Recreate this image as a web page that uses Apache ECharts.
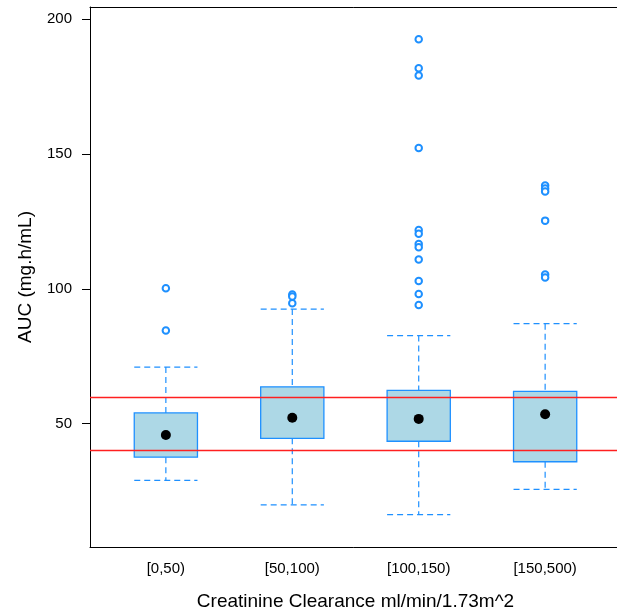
<!DOCTYPE html>
<html>
<head>
<meta charset="utf-8">
<script src="https://cdn.jsdelivr.net/npm/echarts@6/dist/echarts.min.js"></script>
<style>
  html, body { margin: 0; padding: 0; background: #fff; }
  #chart { width: 617px; height: 610px; }
</style>
</head>
<body>
<div id="chart"></div>
<script>
// Creatinine clearance groups and AUC box summaries
var categories = ['[0,50)', '[50,100)', '[100,150)', '[150,500)'];
var whiskerLow  = [29.0, 19.9, 16.3, 25.7];
var quartile1   = [37.6, 44.6, 43.5, 35.9];
var median      = [45.8, 52.2, 51.8, 53.5];
var quartile3   = [54.0, 63.7, 62.4, 62.0];
var whiskerHigh = [71.0, 92.5, 82.7, 87.1];
var outliers = [
  [100.2, 84.6],
  [97.9, 97.2, 94.7],
  [192.5, 181.8, 179.1, 152.2, 121.8, 120.4, 116.6, 115.4, 110.9, 102.9, 98.1, 94.0],
  [138.3, 137.2, 136.1, 125.3, 105.3, 104.2]
];
var targetRange = [40, 60];
var yTicks = [50, 100, 150, 200];

var FONT = "'Liberation Sans', Arial, Helvetica, sans-serif";
var BLUE = '#1E90FF';

var boxData = categories.map(function (c, i) {
  return [i + 1, whiskerLow[i], quartile1[i], median[i], quartile3[i], whiskerHigh[i]];
});
var medianData = categories.map(function (c, i) { return [i + 1, median[i]]; });
var outlierData = [];
outliers.forEach(function (list, i) {
  list.forEach(function (v) { outlierData.push([i + 1, v]); });
});

var chart = echarts.init(document.getElementById('chart'), null, { renderer: 'canvas' });

chart.setOption({
  animation: false,
  backgroundColor: '#fff',
  textStyle: { fontFamily: FONT },
  grid: { left: 90, right: -4, top: 7, bottom: 63, containLabel: false, outerBoundsMode: 'none' },
  xAxis: [
    {
      type: 'value', min: 0.4, max: 4.6, position: 'bottom',
      axisLine: { show: true, lineStyle: { color: '#000', width: 1 } },
      axisTick: { show: false },
      splitLine: { show: false },
      axisLabel: {
        customValues: [1, 2, 3, 4],
        formatter: function (v) { return categories[Math.round(v) - 1]; },
        color: '#000', fontSize: 15, fontFamily: FONT, margin: 14
      },
      name: 'Creatinine Clearance ml/min/1.73m^2',
      nameLocation: 'middle', nameGap: 45,
      nameTextStyle: { color: '#000', fontSize: 19, fontFamily: FONT }
    },
    {
      type: 'value', min: 0.4, max: 4.6, position: 'top',
      axisLine: { show: true, lineStyle: { color: '#000', width: 1 } },
      axisTick: { show: false }, axisLabel: { show: false }, splitLine: { show: false }
    }
  ],
  yAxis: {
    type: 'value', min: 4.3, max: 204.5,
    axisLine: { show: true, lineStyle: { color: '#000', width: 1 } },
    axisTick: { show: true, customValues: yTicks, length: 8, lineStyle: { color: '#000' } },
    splitLine: { show: false },
    axisLabel: { customValues: yTicks, color: '#000', fontSize: 15, fontFamily: FONT, margin: 18 },
    name: 'AUC (mg.h/mL)', nameLocation: 'middle', nameGap: 55,
    nameTextStyle: { color: '#000', fontSize: 19, fontFamily: FONT }
  },
  series: [
    {
      type: 'custom',
      name: 'box',
      data: boxData,
      z: 2,
      renderItem: function (params, api) {
        var x = api.value(0);
        var pLo = api.coord([x, api.value(1)]);
        var pQ1 = api.coord([x, api.value(2)]);
        var pQ3 = api.coord([x, api.value(4)]);
        var pHi = api.coord([x, api.value(5)]);
        var half = api.size([1, 0])[0] * 0.25;
        var cx = pQ1[0];
        var dash = { stroke: BLUE, lineWidth: 1.2, lineDash: [6, 4], fill: null, opacity: 1 };
        return {
          type: 'group',
          children: [
            { type: 'line', shape: { x1: cx, y1: pHi[1], x2: cx, y2: pQ3[1] }, style: dash },
            { type: 'line', shape: { x1: cx, y1: pQ1[1], x2: cx, y2: pLo[1] }, style: dash },
            { type: 'line', shape: { x1: cx - half, y1: pHi[1], x2: cx + half, y2: pHi[1] }, style: dash },
            { type: 'line', shape: { x1: cx - half, y1: pLo[1], x2: cx + half, y2: pLo[1] }, style: dash },
            {
              type: 'rect',
              shape: { x: cx - half, y: pQ3[1], width: 2 * half, height: pQ1[1] - pQ3[1] },
              style: { fill: '#ADD8E6', stroke: BLUE, lineWidth: 1.3 }
            }
          ]
        };
      }
    },
    {
      type: 'scatter',
      name: 'outliers',
      data: outlierData,
      symbol: 'emptyCircle',
      symbolSize: 6.5,
      itemStyle: { color: BLUE, borderColor: BLUE, borderWidth: 1.1, opacity: 1 },
      z: 3
    },
    {
      type: 'scatter',
      name: 'median',
      data: medianData,
      symbol: 'circle',
      symbolSize: 10,
      itemStyle: { color: '#000', opacity: 1 },
      z: 4
    },
    {
      type: 'line',
      name: 'target',
      data: [],
      z: 5,
      markLine: {
        silent: true,
        symbol: 'none',
        label: { show: false },
        lineStyle: { color: '#FF2020', width: 1.3, type: 'solid' },
        data: targetRange.map(function (v) { return { yAxis: v }; })
      }
    }
  ]
});
</script>
</body>
</html>
